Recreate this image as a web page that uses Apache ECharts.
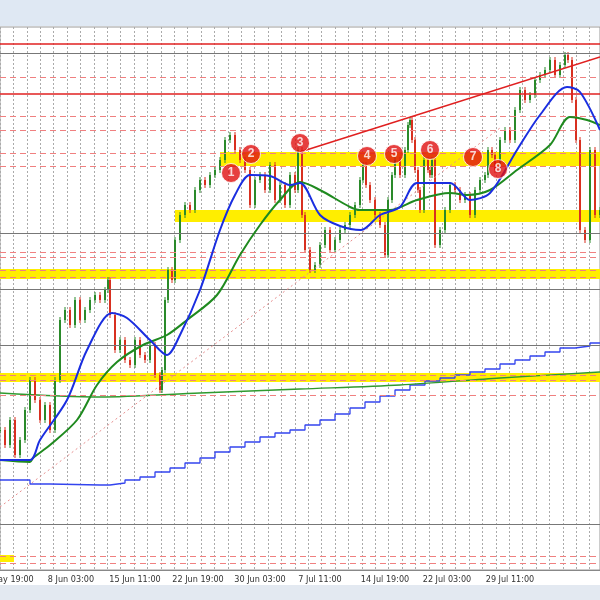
<!DOCTYPE html>
<html><head><meta charset="utf-8">
<script src="https://cdn.jsdelivr.net/npm/echarts@6/dist/echarts.min.js"></script>
<style>html,body{margin:0;padding:0;background:#fff}#c{width:600px;height:600px}</style>
</head><body><div id="c"></div>
<script>
// Chart level units (inverted scale: smaller = higher price)
const priceX = [0,5,10,15,20,25,30,35,40,45,50,55,60,65,70,75,80,85,90,95,100,105,108,110,115,120,125,130,135,140,145,150,155,160,162,165,168,172,175,180,185,190,195,200,205,210,215,220,225,230,235,240,245,250,255,260,265,270,275,280,285,290,295,298,302,305,310,315,320,325,330,335,340,345,350,355,360,363,366,370,375,380,385,388,392,395,400,405,408,410,412,415,418,420,424,428,430,432,435,440,445,450,455,460,465,470,475,480,485,488,492,495,500,505,510,515,520,525,530,535,540,545,550,555,560,565,568,572,576,580,585,590,595,600];
const priceY = [430,445,420,455,440,410,380,400,420,405,430,380,320,310,325,300,320,310,300,295,300,290,280,315,350,340,360,365,340,355,360,345,375,390,370,300,270,280,240,215,205,210,190,180,185,175,170,160,140,135,150,160,170,205,180,175,190,165,200,185,205,175,190,150,215,250,270,265,245,230,250,240,230,225,215,205,180,165,185,200,215,225,255,200,175,160,175,150,125,120,140,170,190,210,160,170,175,160,245,230,210,185,190,200,195,215,190,180,175,150,155,170,140,130,140,110,90,100,95,80,75,70,60,75,65,55,60,100,140,230,240,150,215,210];
const blueMaX = [0,30,40,67,87,112,127,150,167,180,200,220,235,250,270,290,300,320,340,361,380,400,417,450,470,490,517,540,567,580,600];
const blueMaY = [460,460,440,400,350,313,318,340,355,335,290,230,195,175,176,185,183,215,226,230,215,207,183,183,200,193,150,115,87,92,130];
const greenMaX = [0,30,33,50,77,97,117,143,167,187,217,240,260,280,300,320,350,360,390,417,450,467,490,517,550,570,587,600];
const greenMaY = [460,462,458,445,420,385,362,345,335,320,295,255,225,200,182,190,207,210,210,200,193,195,190,170,145,117,120,125];
const longGreenX = [0,100,200,300,400,500,600];
const longGreenY = [393,397,393,389,385,378,372];
const stepX = [0,30,50,100,110,125,140,155,170,185,200,215,230,245,260,275,290,305,320,335,350,365,380,395,410,425,440,455,470,485,500,515,530,545,560,575,590,600];
const stepY = [480,484,485,485,483,480,477,472,468,463,458,452,447,442,437,433,430,425,420,414,408,402,396,390,385,381,378,375,372,369,364,360,356,352,348,346,343,343];
const redHLevels = [44,94];
const grayHLevels = [53,233,289,345,524];
const pinkDashLevels = [77,116,130,153,166,252,257,270,277,375,380,395,556,563];
const yellowBands = [[220,600,152,166],[175,600,210,222],[0,600,269,279],[0,600,373,382],[0,14,555,562]];
const trendLine = [[300,152],[600,57]];
const dottedDiag = [[0,507],[500,128]];
const markers = [[1,231,173],[2,251,154],[3,300,143],[4,367,156],[5,394,154],[6,430,150],[7,473,157],[8,498,169]];
const tickPos = [6,71,135,198,260,320,385,447,510];
const tickLabels = ['31 May 19:00','8 Jun 03:00','15 Jun 11:00','22 Jun 19:00','30 Jun 03:00','7 Jul 11:00','14 Jul 19:00','22 Jul 03:00','29 Jul 11:00'];

const zip = (a,b)=>a.map((v,i)=>[v,b[i]]);
const candles = priceX.map((x,i)=>{
  const c = priceY[i], o = i>0 ? priceY[i-1] : c;
  return [x, Math.min(o,c)-3, Math.max(o,c)+3, o, c];
});

const chart = echarts.init(document.getElementById('c'));
chart.setOption({
  animation:false,
  backgroundColor:'#fff',
  graphic:[
    {type:'rect',shape:{x:0,y:0,width:600,height:26},style:{fill:'#dfe8f3'},z:-10},
    {type:'rect',shape:{x:0,y:585,width:600,height:15},style:{fill:'#e3e9f1'},z:-10}
  ],
  grid:{left:0,right:0,top:27,bottom:30,show:true,borderColor:'#999',borderWidth:1,containLabel:false,outerBoundsMode:'none'},
  xAxis:{type:'value',min:0,max:600,interval:13.4,
    axisLine:{show:true,lineStyle:{color:'#888'}},axisTick:{show:false},
    splitLine:{show:true,lineStyle:{color:'#aaa',type:[2,2],width:1}},
    axisLabel:{customValues:tickPos,formatter:v=>tickLabels[tickPos.indexOf(v)]||'',hideOverlap:false,
      fontSize:9,color:'#333',fontFamily:'DejaVu Sans Condensed, Liberation Sans Narrow, sans-serif',margin:5}},
  yAxis:{type:'value',inverse:true,min:27,max:570,show:false,splitLine:{show:false}},
  series:[
    {type:'custom',z:1,silent:true,
     renderItem:(p,api)=>{const b=yellowBands[p.dataIndex];const a=api.coord([b[0],b[2]]),c=api.coord([b[1],b[3]]);
       return {type:'rect',shape:{x:a[0],y:a[1],width:c[0]-a[0],height:c[1]-a[1]},style:{fill:'#ffee00'}};},
     data:yellowBands.map((b,i)=>[i])},
    {type:'line',data:[],z:2,
     markLine:{symbol:'none',silent:true,label:{show:false},
       data:[
        ...pinkDashLevels.map(v=>({yAxis:v,lineStyle:{color:'#f08080',type:[6,4],width:1}})),
        ...grayHLevels.map(v=>({yAxis:v,lineStyle:{color:'#777',type:'solid',width:1}})),
        ...redHLevels.map(v=>({yAxis:v,lineStyle:{color:'#e02020',type:'solid',width:1.6}})),
        [{coord:trendLine[0],lineStyle:{color:'#e02020',width:1.6,type:'solid'}},{coord:trendLine[1]}],
        [{coord:dottedDiag[0],lineStyle:{color:'#e89090',width:1,type:[2,3]}},{coord:dottedDiag[1]}]
       ]}},
    {type:'line',data:zip(stepX,stepY),step:'end',showSymbol:false,lineStyle:{color:'#3344ee',width:1.3},z:3},
    {type:'line',data:zip(longGreenX,longGreenY),smooth:0.3,showSymbol:false,lineStyle:{color:'#2f9a2f',width:1.3},z:3},
    {type:'custom',z:4,
     renderItem:(p,api)=>{const x=api.value(0),lo=api.value(1),hi=api.value(2),o=api.value(3),c=api.value(4);
       const col = c<=o ? '#2a8a2a' : '#d83020';
       const p1=api.coord([x,lo]),p2=api.coord([x,hi]),po=api.coord([x,o]),pc=api.coord([x,c]);
       return {type:'group',children:[
         {type:'line',shape:{x1:p1[0],y1:p1[1],x2:p2[0],y2:p2[1]},style:{stroke:col,lineWidth:1}},
         {type:'rect',shape:{x:p1[0]-1,y:Math.min(po[1],pc[1]),width:2,height:Math.max(1,Math.abs(pc[1]-po[1]))},style:{fill:col}}]};},
     data:candles},
    {type:'line',data:zip(greenMaX,greenMaY),smooth:0.3,showSymbol:false,lineStyle:{color:'#1f8a1f',width:2},z:5},
    {type:'line',data:zip(blueMaX,blueMaY),smooth:0.3,showSymbol:false,lineStyle:{color:'#1a2ee0',width:2},z:6},
    {type:'scatter',z:7,data:markers.map(m=>[m[1],m[2],m[0]]),symbolSize:19,
     itemStyle:{color:'#e01010',borderColor:'#fff',borderWidth:1},
     label:{show:true,position:'inside',formatter:p=>p.value[2],color:'#fff',fontSize:12,fontWeight:'bold',fontFamily:'Liberation Sans'}}
  ]
});
</script></body></html>
